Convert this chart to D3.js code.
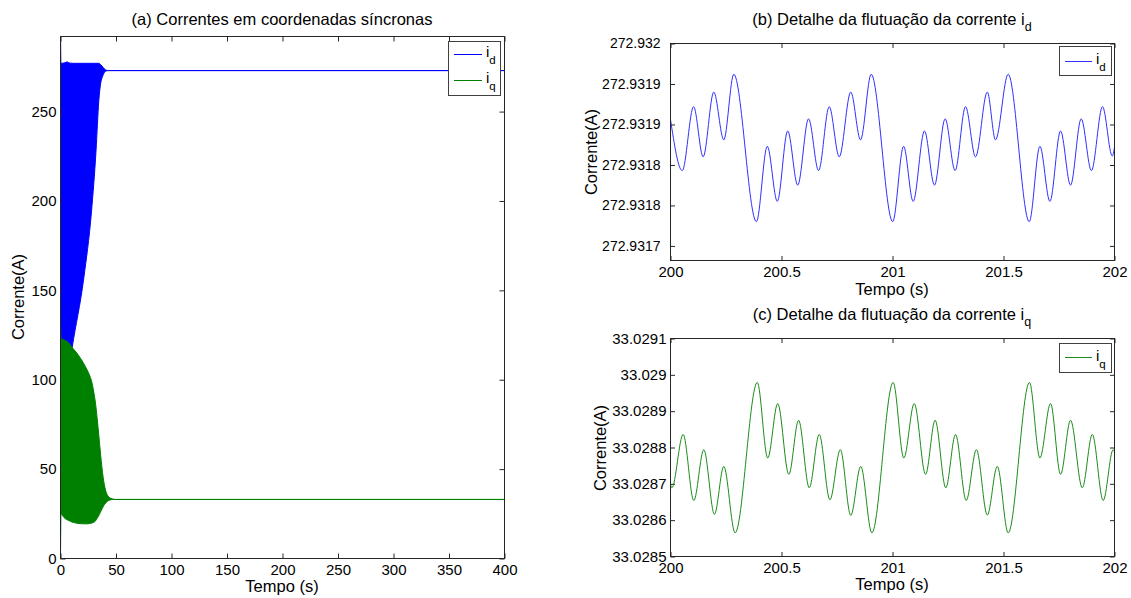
<!DOCTYPE html>
<html>
<head>
<meta charset="utf-8">
<script src="https://cdn.jsdelivr.net/npm/d3@7"></script>
<style>
  body { margin: 0; background: #fff; }
  svg text { font-family: "Liberation Sans", Arial, sans-serif; fill: #000; }
</style>
</head>
<body>
<svg id="fig" width="1131" height="598"></svg>
<script>
// ---------- (a) dq currents over the whole run: envelopes of the fast ripple ----------
const aTimeTicks = [0, 50, 100, 150, 200, 250, 300, 350, 400];
const aCurrentTicks = [0, 50, 100, 150, 200, 250];

const idEnvTime = [0, 0.4, 4, 6, 8, 10.5, 21, 27.9, 32, 34.5, 36, 37.5, 38.5, 40.5, 43, 400];
const idEnvHigh = [300, 277, 277.3, 277.8, 277.2, 277, 277, 277, 277, 277, 276.4, 275.4, 274.6, 273.4, 272.93, 272.93];
const idEnvLow  = [0, 105, 106, 107, 108, 118, 157, 194, 228, 256, 265, 269, 270.6, 272.5, 272.93, 272.93];

const iqEnvTime = [0, 0.4, 3, 7.5, 10.5, 14, 18, 21, 24, 26.5, 28.5, 30, 31.5, 33, 34.5, 36, 37.5, 39, 40.5, 42, 44, 47, 50, 400];
const iqEnvHigh = [131, 123, 122.3, 120.5, 118, 115.5, 112, 109, 105.5, 102, 98, 93, 87, 78.5, 69, 59, 50, 43, 38.5, 35.8, 34.2, 33.3, 33.03, 33.03];
const iqEnvLow  = [0, 25, 23, 21.2, 20.4, 19.8, 19.5, 19.4, 19.4, 19.6, 19.9, 20.3, 21, 22.5, 24, 26, 27.8, 29.6, 30.8, 31.9, 32.6, 33.0, 33.03, 33.03];

// ---------- (b) detail of i_d between 200 s and 202 s ----------
const detailTimeTicks = [200, 200.5, 201, 201.5, 202];
const detailTimeLabels = ["200", "200.5", "201", "201.5", "202"];
const idDetailTicks = [272.93175, 272.9318, 272.93185, 272.9319, 272.93195, 272.932];
const idDetailLabels = ["272.9317", "272.9318", "272.9318", "272.9319", "272.9319", "272.932"];

const idDetailTime = [200, 200.053, 200.104, 200.147, 200.195, 200.240, 200.285, 200.387, 200.436, 200.481,
  200.528, 200.573, 200.622, 200.667, 200.715, 200.760, 200.812, 200.856, 200.904, 201.001,
  201.050, 201.093, 201.144, 201.189, 201.237, 201.282, 201.329, 201.374, 201.427, 201.464,
  201.521, 201.616, 201.664, 201.709, 201.757, 201.802, 201.850, 201.896, 201.946, 201.990, 202];
const idDetailValue = [272.931906, 272.931843, 272.931922, 272.931860, 272.931940, 272.931881, 272.931962, 272.931780, 272.931873, 272.931805,
  272.931892, 272.931825, 272.931907, 272.931843, 272.931922, 272.931860, 272.931940, 272.931881, 272.931962, 272.931780,
  272.931873, 272.931805, 272.931892, 272.931825, 272.931907, 272.931843, 272.931922, 272.931860, 272.931940, 272.931881,
  272.931962, 272.931780, 272.931873, 272.931805, 272.931892, 272.931825, 272.931907, 272.931843, 272.931922, 272.931861, 272.931872];

// ---------- (c) detail of i_q between 200 s and 202 s ----------
const iqDetailTicks = [33.0285, 33.0286, 33.0287, 33.0288, 33.0289, 33.029, 33.0291];
const iqDetailLabels = ["33.0285", "33.0286", "33.0287", "33.0288", "33.0289", "33.029", "33.0291"];

const iqDetailTime = [200, 200.006, 200.057, 200.105, 200.150, 200.198, 200.240, 200.291, 200.391, 200.438, 200.483,
  200.533, 200.577, 200.625, 200.670, 200.718, 200.765, 200.812, 200.857, 200.907, 201.003,
  201.051, 201.098, 201.149, 201.192, 201.240, 201.284, 201.332, 201.378, 201.427, 201.472,
  201.521, 201.617, 201.664, 201.712, 201.757, 201.802, 201.855, 201.900, 201.949, 201.994, 202];
const iqDetailValue = [33.028700, 33.028689, 33.028836, 33.028654, 33.028794, 33.028616, 33.028748, 33.028565, 33.028979, 33.028771, 33.028921,
  33.028726, 33.028875, 33.028689, 33.028836, 33.028656, 33.028794, 33.028613, 33.028748, 33.028565, 33.028979,
  33.028771, 33.028921, 33.028726, 33.028875, 33.028689, 33.028836, 33.028654, 33.028794, 33.028614, 33.028748,
  33.028565, 33.028979, 33.028771, 33.028921, 33.028726, 33.028875, 33.028689, 33.028836, 33.028654, 33.028794, 33.028788];

// ---------- drawing ----------
const svg = d3.select("#fig");
svg.append("rect").attr("width", 1131).attr("height", 598).attr("fill", "#fff");

const FRAME = "#262626";
const LABEL_FONT = 16.5;
let clipCount = 0;

function panel(box, xDomain, yDomain, opt) {
  const g = svg.append("g").attr("transform", `translate(${box.x + 0.5},${box.y + 0.5})`);
  const x = d3.scaleLinear().domain(xDomain).range([0, box.w]);
  const y = d3.scaleLinear().domain(yDomain).range([box.h, 0]);
  const tl = opt.tickLen;

  const styleAxis = size => sel => {
    sel.select(".domain").remove();
    sel.selectAll(".tick line").attr("stroke", FRAME);
    sel.selectAll("text").attr("font-size", size).attr("fill", "#000");
    sel.attr("font-family", null).attr("font-size", null);
  };

  g.append("g").attr("transform", `translate(0,${box.h})`)
    .call(d3.axisBottom(x).tickValues(opt.xTicks).tickFormat((d, i) => opt.xLabels[i]).tickSize(-tl).tickPadding(6))
    .call(styleAxis(opt.xFont));
  g.append("g")
    .call(d3.axisTop(x).tickValues(opt.xTicks).tickFormat("").tickSize(-tl))
    .call(styleAxis(opt.xFont));
  g.append("g")
    .call(d3.axisLeft(y).tickValues(opt.yTicks).tickFormat((d, i) => opt.yLabels[i]).tickSize(-tl).tickPadding(opt.yPad))
    .call(styleAxis(opt.yFont));
  g.append("g").attr("transform", `translate(${box.w},0)`)
    .call(d3.axisRight(y).tickValues(opt.yTicks).tickFormat("").tickSize(-tl))
    .call(styleAxis(opt.yFont));

  const id = "clip" + (clipCount++);
  g.append("clipPath").attr("id", id).append("rect")
    .attr("x", 0).attr("y", 0).attr("width", box.w).attr("height", box.h);
  const plot = g.append("g").attr("clip-path", `url(#${id})`);

  // frame drawn last so it sits above the data
  const frame = () => g.append("rect").attr("x", 0).attr("y", 0)
    .attr("width", box.w).attr("height", box.h)
    .attr("fill", "none").attr("stroke", FRAME).attr("stroke-width", 1)
    .attr("shape-rendering", "crispEdges");

  return { g, x, y, plot, frame, box };
}

function subText(parent, xPos, yPos, main, sub, size, subSize, shift, anchor) {
  const t = parent.append("text").attr("x", xPos).attr("y", yPos)
    .attr("font-size", size).attr("text-anchor", anchor || "start");
  t.append("tspan").text(main);
  t.append("tspan").attr("font-size", subSize).attr("dy", shift).text(sub);
  return t;
}

function legend(box, items) {
  const lg = svg.append("g");
  lg.append("rect").attr("x", box.x + 0.5).attr("y", box.y + 0.5).attr("width", box.w).attr("height", box.h)
    .attr("fill", "#fff").attr("stroke", "#404040").attr("stroke-width", 1).attr("shape-rendering", "crispEdges");
  items.forEach(it => {
    lg.append("line").attr("x1", it.x1).attr("x2", it.x2).attr("y1", it.y).attr("y2", it.y)
      .attr("stroke", it.color).attr("stroke-width", 1);
    subText(lg, it.tx, it.ty, "i", it.sub, 15, 11.5, 7);
  });
}

// ===== (a) =====
const A = panel({ x: 60, y: 36, w: 444, h: 522 }, [0, 400], [0, 292], {
  xTicks: aTimeTicks, xLabels: aTimeTicks.map(String),
  yTicks: aCurrentTicks, yLabels: aCurrentTicks.map(String),
  tickLen: 5, yPad: 4, xFont: 15, yFont: 15
});
const idRows = idEnvTime.map((t, i) => ({ t, lo: idEnvLow[i], hi: idEnvHigh[i] }));
const iqRows = iqEnvTime.map((t, i) => ({ t, lo: iqEnvLow[i], hi: iqEnvHigh[i] }));
const envArea = d3.area().x(d => A.x(d.t)).y0(d => A.y(d.lo)).y1(d => A.y(d.hi)).curve(d3.curveMonotoneX);
A.plot.append("path").datum(idRows).attr("d", envArea)
  .attr("fill", "#0000ff").attr("stroke", "#0000ff").attr("stroke-width", 1);
A.plot.append("path").datum(iqRows).attr("d", envArea)
  .attr("fill", "#008000").attr("stroke", "#008000").attr("stroke-width", 1);
A.frame();

svg.append("text").attr("x", 282).attr("y", 25).attr("text-anchor", "middle")
  .attr("font-size", LABEL_FONT).text("(a) Correntes em coordenadas síncronas");
svg.append("text").attr("x", 282).attr("y", 592).attr("text-anchor", "middle")
  .attr("font-size", LABEL_FONT).text("Tempo (s)");
svg.append("text").attr("transform", "translate(18,297) rotate(-90)").attr("dy", "0.35em")
  .attr("text-anchor", "middle").attr("font-size", LABEL_FONT).text("Corrente(A)");

legend({ x: 448, y: 41, w: 52, h: 54 }, [
  { x1: 454, x2: 482, y: 54.5, color: "#0000ff", sub: "d", tx: 486, ty: 57 },
  { x1: 454, x2: 482, y: 80.5, color: "#008000", sub: "q", tx: 486, ty: 83 }
]);

// ===== (b) =====
const B = panel({ x: 670, y: 43, w: 444, h: 217 }, [200, 202], [272.931732, 272.932], {
  xTicks: detailTimeTicks, xLabels: detailTimeLabels,
  yTicks: idDetailTicks, yLabels: idDetailLabels,
  tickLen: 4.5, yPad: 10, xFont: 15, yFont: 14
});
const idPts = idDetailTime.map((t, i) => ({ t, v: idDetailValue[i] }));
B.plot.append("path").datum(idPts)
  .attr("d", d3.line().x(d => B.x(d.t)).y(d => B.y(d.v)).curve(d3.curveMonotoneX))
  .attr("fill", "none").attr("stroke", "#3030ff").attr("stroke-width", 1);
B.frame();

subText(svg, 892, 25, "(b) Detalhe da flutuação da corrente i", "d", LABEL_FONT, 12.5, 6, "middle");
svg.append("text").attr("x", 892).attr("y", 295).attr("text-anchor", "middle")
  .attr("font-size", LABEL_FONT).text("Tempo (s)");
svg.append("text").attr("transform", "translate(591,152) rotate(-90)").attr("dy", "0.35em")
  .attr("text-anchor", "middle").attr("font-size", LABEL_FONT).text("Corrente(A)");

legend({ x: 1059, y: 46, w: 52, h: 29 }, [
  { x1: 1065, x2: 1092, y: 61.5, color: "#3030ff", sub: "d", tx: 1096, ty: 64 }
]);

// ===== (c) =====
const C = panel({ x: 670, y: 338, w: 444, h: 218 }, [200, 202], [33.0285, 33.0291], {
  xTicks: detailTimeTicks, xLabels: detailTimeLabels,
  yTicks: iqDetailTicks, yLabels: iqDetailLabels,
  tickLen: 4.5, yPad: 4, xFont: 15, yFont: 15
});
const iqPts = iqDetailTime.map((t, i) => ({ t, v: iqDetailValue[i] }));
C.plot.append("path").datum(iqPts)
  .attr("d", d3.line().x(d => C.x(d.t)).y(d => C.y(d.v)).curve(d3.curveMonotoneX))
  .attr("fill", "none").attr("stroke", "#1a8c1a").attr("stroke-width", 1);
C.frame();

subText(svg, 892, 320, "(c) Detalhe da flutuação da corrente i", "q", LABEL_FONT, 12.5, 6, "middle");
svg.append("text").attr("x", 892).attr("y", 590).attr("text-anchor", "middle")
  .attr("font-size", LABEL_FONT).text("Tempo (s)");
svg.append("text").attr("transform", "translate(600,448) rotate(-90)").attr("dy", "0.35em")
  .attr("text-anchor", "middle").attr("font-size", LABEL_FONT).text("Corrente(A)");

legend({ x: 1059, y: 343, w: 52, h: 29 }, [
  { x1: 1065, x2: 1092, y: 357.5, color: "#1a8c1a", sub: "q", tx: 1096, ty: 361 }
]);
</script>
</body>
</html>
